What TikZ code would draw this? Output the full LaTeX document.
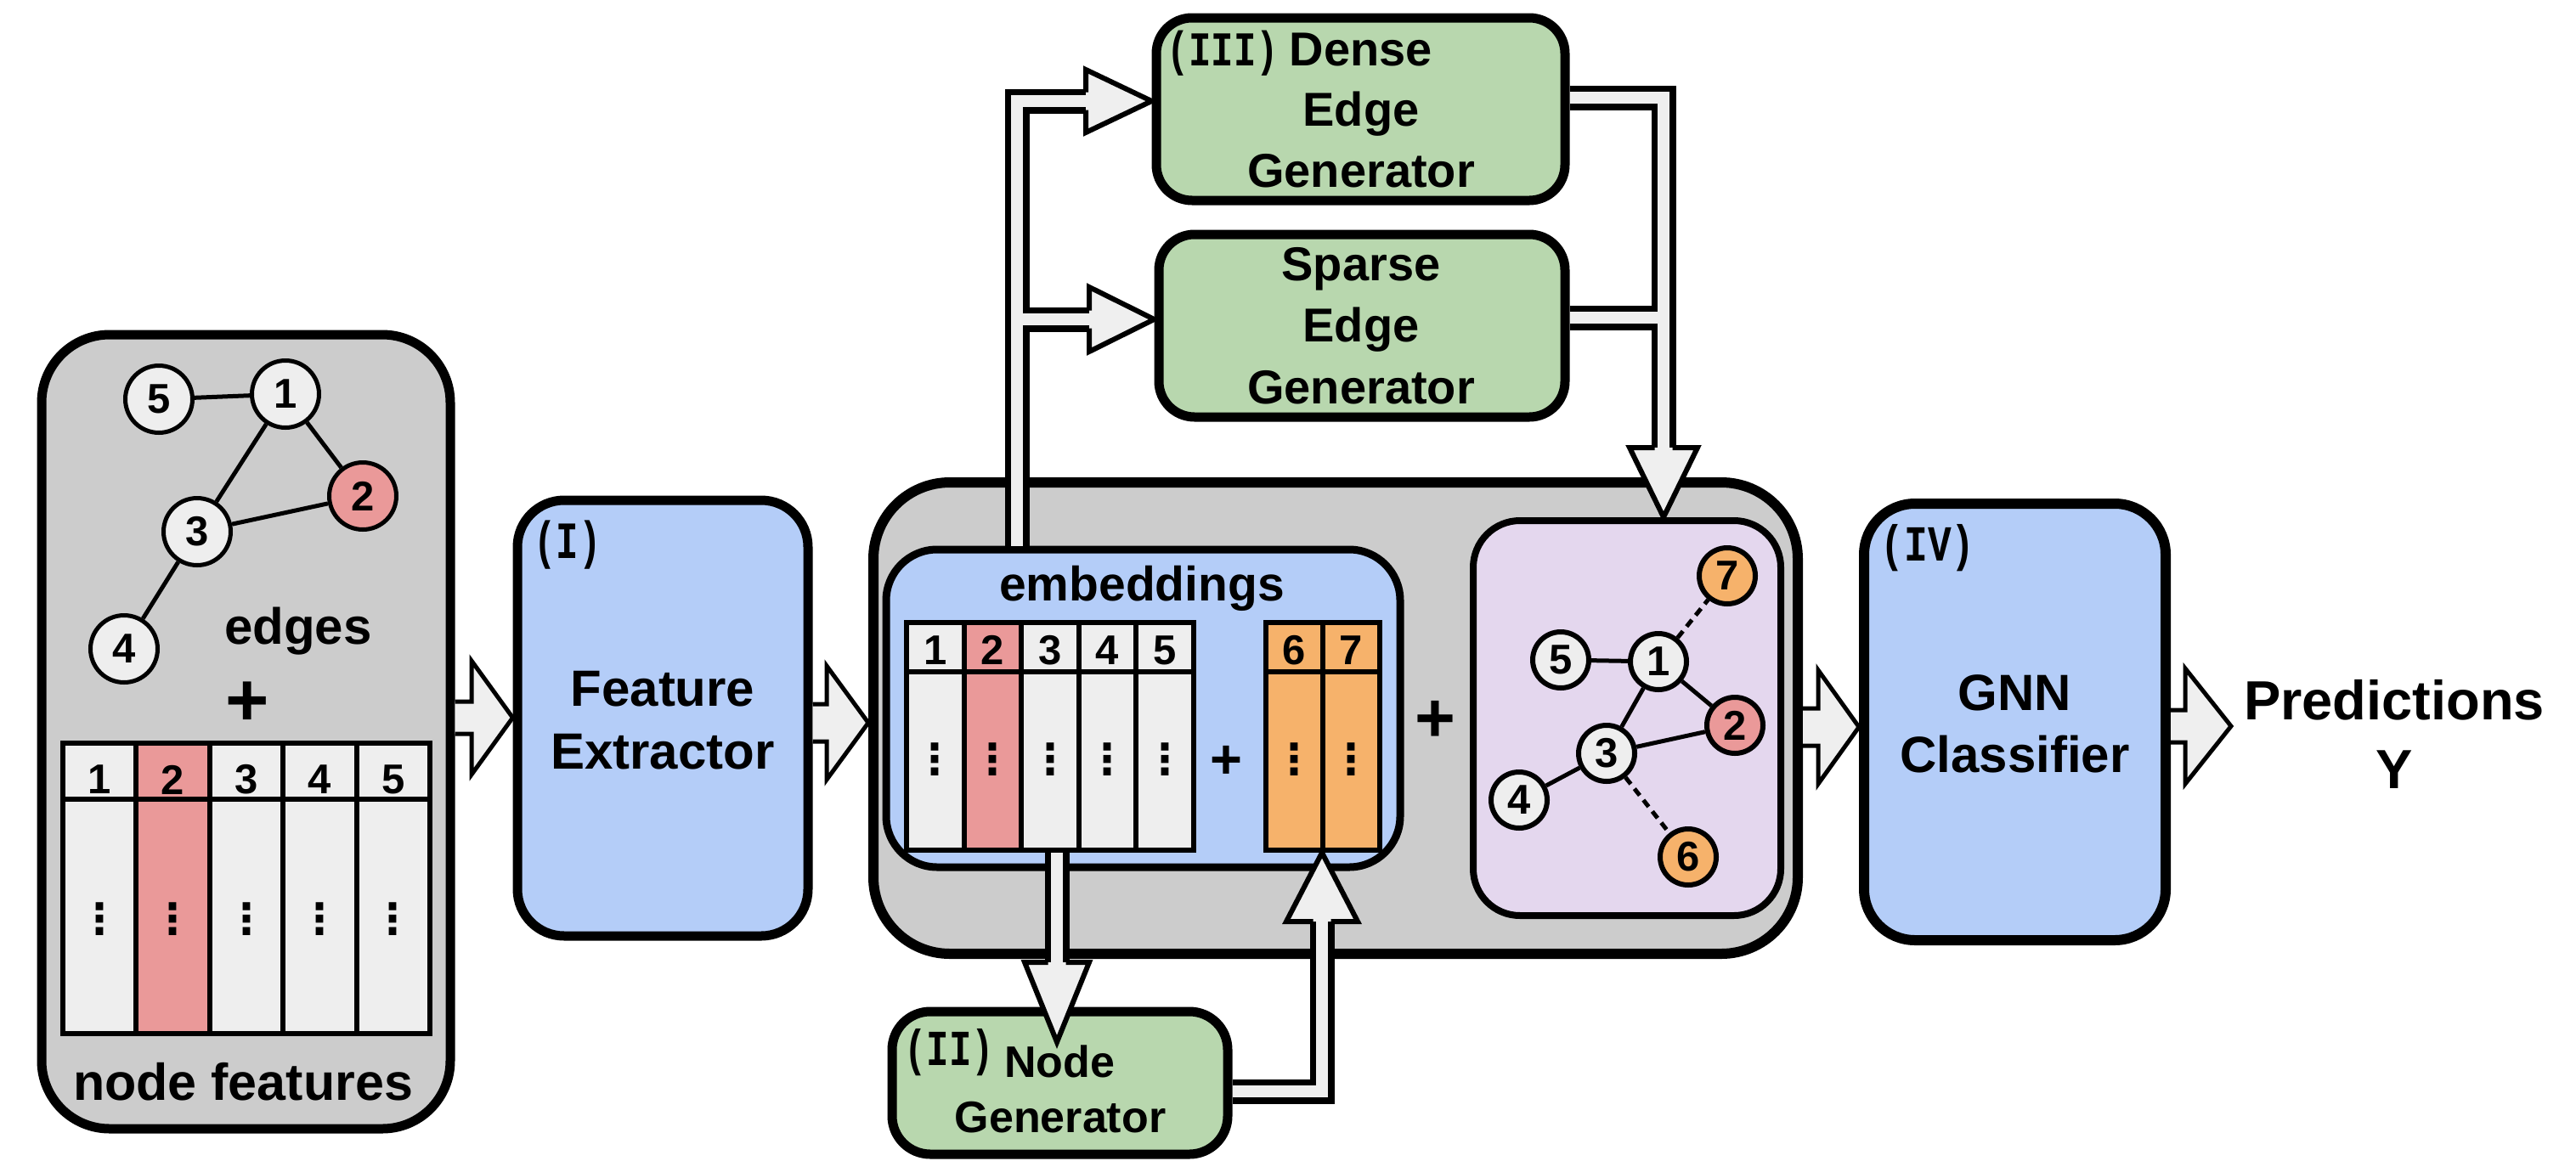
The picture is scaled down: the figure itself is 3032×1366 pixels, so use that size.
\documentclass[tikz,border=0pt]{standalone}
\usepackage{fontspec}
\usepackage{graphicx}
\setmainfont{Liberation Sans}
\newfontfamily\monof{Liberation Mono}
\newfontfamily\dvf{DejaVu Sans}
\usetikzlibrary{calc}
\definecolor{grayf}{HTML}{CCCCCC}
\definecolor{lightc}{HTML}{EEEEEE}
\definecolor{pinkc}{HTML}{EA9999}
\definecolor{orangec}{HTML}{F6B26B}
\definecolor{bluec}{HTML}{B4CDF8}
\definecolor{greenc}{HTML}{B8D7AE}
\definecolor{purplec}{HTML}{E4D7EE}
\definecolor{afill}{HTML}{EFEFEF}
\tikzset{
  rbox/.style={rectangle, draw=black, inner sep=0pt},
  f60/.style={font={\bfseries\fontsize{60pt}{72pt}\selectfont}, inner sep=0pt, anchor=base},
  f61/.style={font={\bfseries\fontsize{61pt}{72pt}\selectfont}, inner sep=0pt, anchor=base},
  f65/.style={font={\bfseries\fontsize{65pt}{78pt}\selectfont}, inner sep=0pt, anchor=base},
  f57/.style={font={\bfseries\fontsize{57pt}{68pt}\selectfont}, inner sep=0pt, anchor=base},
  f56/.style={font={\bfseries\fontsize{56pt}{68pt}\selectfont}, inner sep=0pt, anchor=base},
  f52/.style={font={\bfseries\fontsize{52pt}{62pt}\selectfont}, inner sep=0pt, anchor=base},
  digf/.style={font={\bfseries\fontsize{49pt}{58pt}\selectfont}},
  monol/.style={font={\monof\bfseries\fontsize{44pt}{50pt}\selectfont}, inner sep=0pt, anchor=center},
  vdot/.style={font={\dvf\bfseries\fontsize{50pt}{56pt}\selectfont}, inner sep=0pt, anchor=center},
  plusl/.style={font={\bfseries\fontsize{#1}{#1}\selectfont}, inner sep=0pt, anchor=center},
  cellst/.style={rectangle, draw=black, line width=6pt, inner sep=0pt},
  lnode/.style={circle, draw=black, line width=5pt, fill=lightc, minimum size=79pt, inner sep=0pt, digf},
  pnode/.style={circle, draw=black, line width=6pt, fill=lightc, minimum size=66pt, inner sep=0pt, digf},
  gedge/.style={draw=black, line width=5pt},
  dedge/.style={draw=black, line width=5pt, dash pattern=on 10pt off 7pt},
  barrow/.style={draw=black, fill=afill, line width=5pt, line join=miter},
  pipeo/.style={draw=black, line width=29pt, line join=miter},
  pipei/.style={draw=afill, line width=14pt, line join=miter},
  phead/.style={draw=black, fill=afill, line width=6pt, line join=miter},
}
\begin{document}
\begin{tikzpicture}[x=1pt,y=-1pt]
\useasboundingbox (0,0) rectangle (3032,1366);
\fill[white] (0,0) rectangle (3032,1366);

% ---------- main boxes ----------
\node[rbox, line width=11pt, rounded corners=80pt, fill=grayf, minimum width=481pt, minimum height=935pt] (lbox) at (289.5,861.5) {};
\node[rbox, line width=11pt, rounded corners=55pt, fill=bluec, minimum width=342pt, minimum height=513pt] (fe) at (780,845.5) {};
\node[rbox, line width=12pt, rounded corners=90pt, fill=grayf, minimum width=1088pt, minimum height=555pt] (gray) at (1572,845.5) {};
\node[rbox, line width=9pt, rounded corners=60pt, fill=bluec, minimum width=605pt, minimum height=374pt] (emb) at (1345.5,834) {};
\node[rbox, line width=8pt, rounded corners=55pt, fill=purplec, minimum width=362pt, minimum height=465pt] (purp) at (1915,845.5) {};
\node[rbox, line width=12pt, rounded corners=60pt, fill=bluec, minimum width=355pt, minimum height=514pt] (gnn) at (2371.5,850) {};
\node[rbox, line width=11pt, rounded corners=42pt, fill=greenc, minimum width=481pt, minimum height=215pt] (dense) at (1601.5,128.5) {};
\node[rbox, line width=11pt, rounded corners=42pt, fill=greenc, minimum width=478pt, minimum height=215pt] (sparse) at (1603,383.5) {};
\node[rbox, line width=11pt, rounded corners=45pt, fill=greenc, minimum width=395pt, minimum height=168pt] (ngen) at (1247.5,1275) {};

% ---------- left graph ----------
\node[lnode] (g5) at (187,470) {5};
\node[lnode] (g1) at (336,464) {1};
\node[lnode, fill=pinkc] (g2) at (427,584) {2};
\node[lnode] (g3) at (232,626) {3};
\node[lnode] (g4) at (146,764) {4};
\draw[gedge] (g5) -- (g1);
\draw[gedge] (g1) -- (g2);
\draw[gedge] (g1) -- (g3);
\draw[gedge] (g3) -- (g2);
\draw[gedge] (g3) -- (g4);
\node[f60] (edl) at (351,758) {edges};
\node[plusl=88pt] (pl1) at (291,829) {+};

% ---------- left table ----------
\foreach \i/\col in {1/lightc,2/pinkc,3/lightc,4/lightc,5/lightc}{
  \node[cellst, fill=\col, minimum width=86.4pt, minimum height=66pt] (lh\i) at ({74+86.4*(\i-0.5)},908) {};
  \node[cellst, fill=\col, minimum width=86.4pt, minimum height=276pt] (lb\i) at ({74+86.4*(\i-0.5)},1079) {};
  \node[digf, inner sep=0pt] (lt\i) at ({74+86.4*(\i-0.5)},918) {\i};
  \node[vdot] (ld\i) at ({74+86.4*(\i-0.5)},1082) {⋮};
}
\node[f61] (nfl) at (286,1295) {node features};

% ---------- feature extractor ----------
\node[monol] (l1) at (668,642) {\scalebox{1}[1.4]{(I)}};
\node[f60] (fe1) at (780,831) {Feature};
\node[f60] (fe2) at (780,905) {Extractor};

% ---------- embeddings ----------
\node[f57] (embl) at (1344,707) {embeddings};
\foreach \i/\col in {1/lightc,2/pinkc,3/lightc,4/lightc,5/lightc}{
  \node[cellst, fill=\col, minimum width=67.6pt, minimum height=58pt] (eh\i) at ({1067+67.6*(\i-0.5)},762) {};
  \node[cellst, fill=\col, minimum width=67.6pt, minimum height=210pt] (eb\i) at ({1067+67.6*(\i-0.5)},896) {};
  \node[digf, inner sep=0pt] (et\i) at ({1067+67.6*(\i-0.5)},765.5) {\i};
  \node[vdot] (ed\i) at ({1067+67.6*(\i-0.5)},894) {⋮};
}
\foreach \i/\n in {1/6,2/7}{
  \node[cellst, fill=orangec, minimum width=67pt, minimum height=58pt] (oh\i) at ({1490+67*(\i-0.5)},762) {};
  \node[cellst, fill=orangec, minimum width=67pt, minimum height=210pt] (ob\i) at ({1490+67*(\i-0.5)},896) {};
  \node[digf, inner sep=0pt] (ot\i) at ({1490+67*(\i-0.5)},765.5) {\n};
  \node[vdot] (od\i) at ({1490+67*(\i-0.5)},894) {⋮};
}
\node[plusl=65pt] (pl2) at (1443,897) {+};
\node[plusl=82pt] (pl3) at (1689,849) {+};

% ---------- purple graph ----------
\node[pnode, fill=orangec] (p7) at (2033,678) {7};
\node[pnode] (p5) at (1837,777) {5};
\node[pnode] (p1) at (1952,779) {1};
\node[pnode, fill=pinkc] (p2) at (2042,854) {2};
\node[pnode] (p3) at (1891,887) {3};
\node[pnode] (p4) at (1788,942) {4};
\node[pnode, fill=orangec] (p6) at (1987,1009) {6};
\draw[gedge] (p5) -- (p1);
\draw[gedge] (p1) -- (p2);
\draw[gedge] (p1) -- (p3);
\draw[gedge] (p3) -- (p2);
\draw[gedge] (p3) -- (p4);
\draw[dedge] (p1) -- (p7);
\draw[dedge] (p3) -- (p6);

% ---------- generators ----------
\node[monol] (l3) at (1439,63) {\scalebox{1}[1.3]{(III)}};
\node[f56] (dn1) at (1602,77) {Dense};
\node[f56] (dn2) at (1602,148) {Edge};
\node[f56] (dn3) at (1602,220) {Generator};
\node[f56] (sp1) at (1602,330) {Sparse};
\node[f56] (sp2) at (1602,402) {Edge};
\node[f56] (sp3) at (1602,475) {Generator};
\node[monol] (l2) at (1117,1239) {\scalebox{1}[1.35]{(II)}};
\node[f52] (ng1) at (1247,1268) {Node};
\node[f52] (ng2) at (1248,1333) {Generator};

% ---------- GNN ----------
\node[monol] (l4) at (2269,645) {\scalebox{1.05}[1.35]{(IV)}};
\node[f60] (gn1) at (2371.5,836) {GNN};
\node[f60] (gn2) at (2371.5,909) {Classifier};
\node[f65] (pr1) at (2818,847) {Predictions};
\node[f65] (pr2) at (2818,928) {Y};

% ---------- block arrows ----------
\coordinate (ya) at (0,845);
\coordinate (yb) at (0,851);
\coordinate (yc) at (0,856);
\coordinate (yd) at (0,855);
\coordinate (dtip) at (2626,855);
\draw[barrow] (lbox.east |- ya) ++(0,-19) -- ++(19.5,0) -- ++(0,-48) -- (fe.west |- ya) -- ++(-48.5,67) -- ++(0,-48) -- ++(-19.5,0);
\draw[barrow] (fe.east |- yb) ++(0,-22) -- ++(16.5,0) -- ++(0,-45) -- (gray.west |- yb) -- ++(-49,67) -- ++(0,-45) -- ++(-16.5,0);
\draw[barrow] (gray.east |- yc) ++(0,-22) -- ++(18,0) -- ++(0,-45) -- (gnn.west |- yc) -- ++(-48,67) -- ++(0,-45) -- ++(-18,0);
\draw[barrow] (gnn.east |- yd) ++(0,-19) -- ++(17,0) -- ++(0,-49) -- (dtip) -- ++(-54,68) -- ++(0,-49) -- ++(-17,0);

% ---------- pipe connectors ----------
\coordinate (p1b) at (1197,119);
\coordinate (hb1) at (1278,119);
\coordinate (p1j) at (1197,376);
\coordinate (hb2) at (1282,376);
\coordinate (p2b) at (1958,115);
\coordinate (hb3) at (1958,527);
\coordinate (p2j) at (1958,374);
\coordinate (hb4) at (1244,1133);
\coordinate (t4) at (1244,1227);
\coordinate (p4b) at (1556,1285);
\coordinate (hb5) at (1556,1085);

\draw[pipeo] (emb.north -| p1b) -- (p1b) -- (hb1);
\draw[pipeo] (p1j) -- (hb2);
\draw[pipeo] (dense.east |- p2b) -- (p2b) -- (hb3);
\draw[pipeo] (sparse.east |- p2j) -- (p2j);
\draw[pipeo] (eb3.south -| hb4) -- (hb4);
\draw[pipeo] (ngen.east |- p4b) -- (p4b) -- (hb5);

\draw[pipei] (emb.north -| p1b) -- (p1b) -- (hb1);
\draw[pipei] (p1j) -- (hb2);
\draw[pipei] (dense.east |- p2b) -- (p2b) -- (hb3);
\draw[pipei] (sparse.east |- p2j) -- (p2j);
\draw[pipei] (eb3.south -| hb4) -- (hb4);
\draw[pipei] (ngen.east |- p4b) -- (p4b) -- (hb5);

\draw[phead] ($(hb1)+(0,-10.5)$) -- ($(hb1)+(0,-37)$) -- (dense.west |- hb1) -- ($(hb1)+(0,37)$) -- ($(hb1)+(0,10.5)$);
\draw[phead] ($(hb2)+(0,-10.5)$) -- ($(hb2)+(0,-38)$) -- (sparse.west |- hb2) -- ($(hb2)+(0,38)$) -- ($(hb2)+(0,10.5)$);
\draw[phead] ($(hb3)+(-10.5,0)$) -- ($(hb3)+(-40,0)$) -- (purp.north -| hb3) -- ($(hb3)+(40,0)$) -- ($(hb3)+(10.5,0)$);
\draw[phead] ($(hb4)+(-10.5,0)$) -- ($(hb4)+(-38,0)$) -- (t4) -- ($(hb4)+(38,0)$) -- ($(hb4)+(10.5,0)$);
\draw[phead] ($(hb5)+(-10.5,0)$) -- ($(hb5)+(-42,0)$) -- (ob1.south -| hb5) -- ($(hb5)+(42,0)$) -- ($(hb5)+(10.5,0)$);
\end{tikzpicture}
\end{document}
